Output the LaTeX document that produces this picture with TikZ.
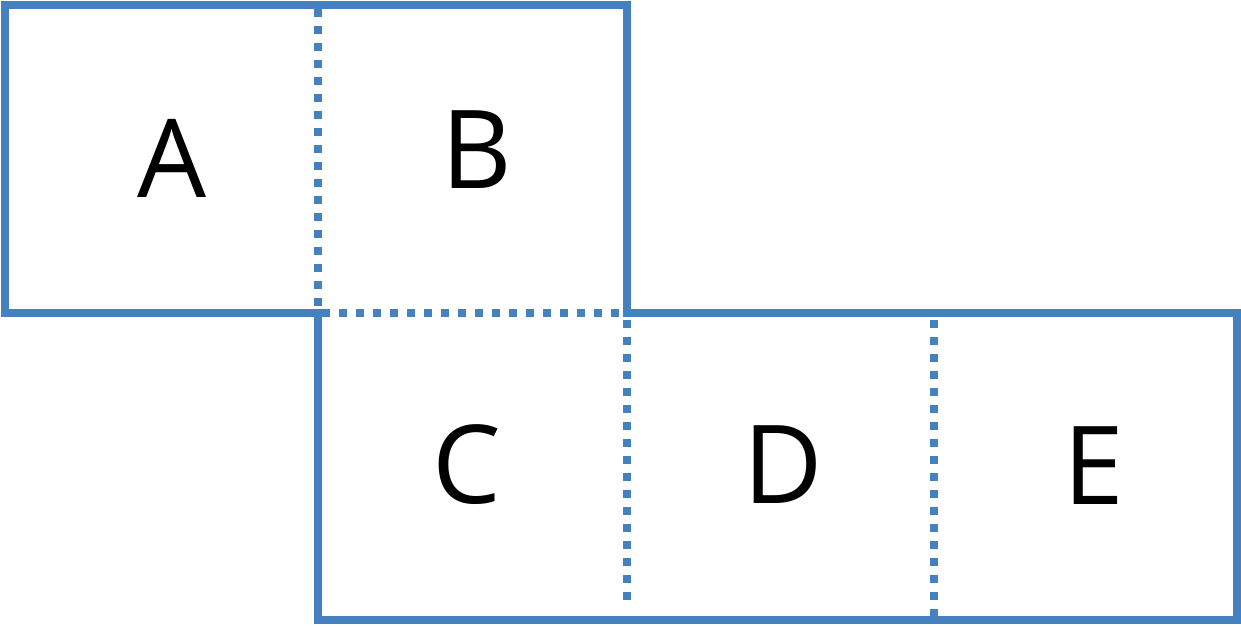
\documentclass[tikz,border=0pt]{standalone}
\usepackage{fontspec}
\setmainfont{Open Sans}
\definecolor{edgeblue}{RGB}{68,129,190}
\begin{document}
\begin{tikzpicture}[x=1pt,y=-1pt,
  outline/.style={draw=edgeblue,line width=7.5pt,line join=miter},
  fold/.style={draw=edgeblue,line width=7.5pt,dash pattern=on 8pt off 9pt},
  letter/.style={font=\fontsize{109}{120}\selectfont,inner sep=0pt,anchor=center}]
\useasboundingbox (0,0) rectangle (1241,626);
\draw[outline] (5,5) -- (627,5) -- (627,313) -- (1237,313) -- (1237,620) -- (318,620) -- (318,313) -- (5,313) -- cycle;
\coordinate (t1) at (318,9);
\coordinate (t2) at (318,309);
\coordinate (h1) at (322,313);
\coordinate (h2) at (623,313);
\coordinate (v1) at (627,320);
\coordinate (v2) at (627,606);
\coordinate (w1) at (934,320);
\coordinate (w2) at (934,616);
\draw[fold] (t1) -- (t2);
\draw[fold] (h1) -- (h2);
\draw[fold] (v1) -- (v2);
\draw[fold] (w1) -- (w2);
\node[letter] (A) at (172,158) {A};
\node[letter] (B) at (477,150) {B};
\node[letter] (C) at (467,465) {C};
\node[letter] (D) at (783,465) {D};
\node[letter] (E) at (1094,466) {E};
\end{tikzpicture}
\end{document}
